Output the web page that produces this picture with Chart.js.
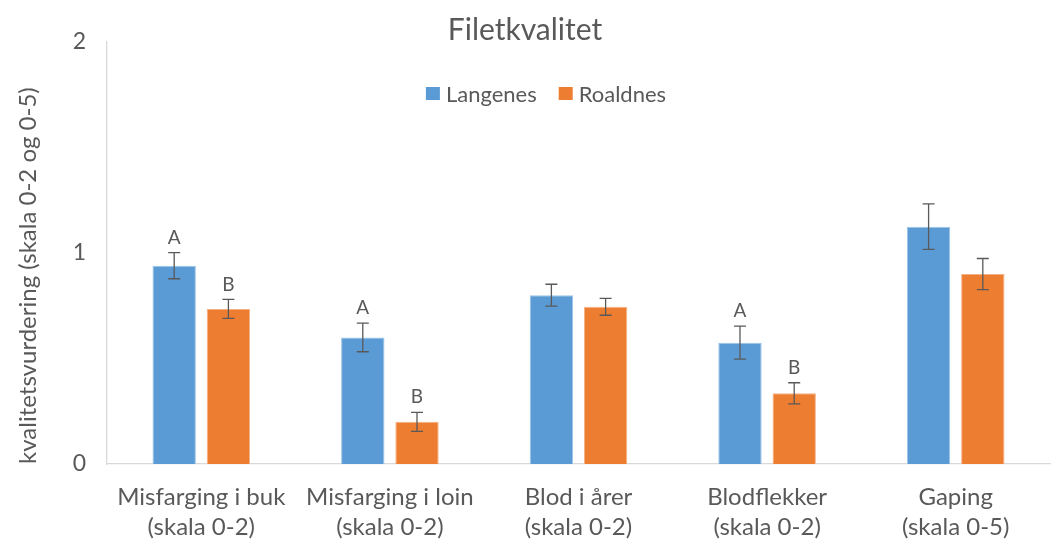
<!DOCTYPE html>
<html>
<head>
<meta charset="utf-8">
<script src="https://cdn.jsdelivr.net/npm/chart.js@4"></script>
<style>
  html, body { margin: 0; padding: 0; background: #fff; }
  #wrap { width: 1055px; height: 542px; }
</style>
</head>
<body>
<div id="wrap"><canvas id="chart" width="1055" height="542"></canvas></div>
<script>
// Filetkvalitet — Langenes vs Roaldnes
const categories = [
  ['Misfarging i buk', '(skala 0-2)'],
  ['Misfarging i loin', '(skala 0-2)'],
  ['Blod i årer', '(skala 0-2)'],
  ['Blodflekker', '(skala 0-2)'],
  ['Gaping', '(skala 0-5)']
];
const langenes = [0.94, 0.60, 0.80, 0.575, 1.125];
const roaldnes = [0.735, 0.20, 0.745, 0.335, 0.90];
const langenesErr = [0.062, 0.068, 0.052, 0.078, 0.108];
const roaldnesErr = [0.045, 0.045, 0.040, 0.050, 0.074];
const langenesSig = ['A', 'A', '', 'A', ''];
const roaldnesSig = ['B', 'B', '', 'B', ''];
const yTicks = [0, 1, 2];

const FONT = 'Lato, "Open Sans", sans-serif';
const TEXT = '#595959';

// error bars + significance letters
const errorBars = {
  id: 'errorBars',
  afterDatasetsDraw(chart) {
    const { ctx, scales: { y } } = chart;
    chart.data.datasets.forEach((ds, di) => {
      const meta = chart.getDatasetMeta(di);
      meta.data.forEach((bar, i) => {
        const v = ds.data[i], e = ds.err[i];
        const top = y.getPixelForValue(v + e);
        const bot = y.getPixelForValue(v - e);
        ctx.save();
        ctx.strokeStyle = '#595959';
        ctx.lineWidth = 1.3;
        ctx.beginPath();
        ctx.moveTo(bar.x, top); ctx.lineTo(bar.x, bot);
        ctx.moveTo(bar.x - 6, top); ctx.lineTo(bar.x + 6, top);
        ctx.moveTo(bar.x - 6, bot); ctx.lineTo(bar.x + 6, bot);
        ctx.stroke();
        if (ds.sig[i]) {
          ctx.fillStyle = TEXT;
          ctx.font = '19px ' + FONT;
          ctx.textAlign = 'center';
          ctx.textBaseline = 'middle';
          ctx.fillText(ds.sig[i], bar.x, top - 15);
        }
        ctx.restore();
      });
    });
  }
};

// legend drawn inside the plot, below the title
const innerLegend = {
  id: 'innerLegend',
  afterDraw(chart) {
    const { ctx, chartArea } = chart;
    ctx.save();
    ctx.font = '22px ' + FONT;
    ctx.textBaseline = 'middle';
    const items = chart.data.datasets.map(ds => ({ label: ds.label, color: ds.backgroundColor, w: ctx.measureText(ds.label).width }));
    const box = 14, gapBox = 6, gapItem = 22;
    const total = items.reduce((s, it) => s + box + gapBox + it.w, 0) + gapItem * (items.length - 1);
    let x = 546 - total / 2;
    const cy = chartArea.top + 52;
    items.forEach(it => {
      ctx.fillStyle = it.color;
      ctx.fillRect(x, cy - 7, box, 13);
      x += box + gapBox;
      ctx.fillStyle = TEXT;
      ctx.fillText(it.label, x, cy + 1);
      x += it.w + gapItem;
    });
    ctx.restore();
  }
};

new Chart(document.getElementById('chart'), {
  type: 'bar',
  data: {
    labels: categories,
    datasets: [
      { label: 'Langenes', data: langenes, err: langenesErr, sig: langenesSig,
        backgroundColor: '#5B9BD5', borderColor: '#9DC3E6', borderWidth: 1 },
      { label: 'Roaldnes', data: roaldnes, err: roaldnesErr, sig: roaldnesSig,
        backgroundColor: '#ED7D31', borderColor: '#F4B183', borderWidth: 1 }
    ]
  },
  options: {
    responsive: false,
    animation: false,
    layout: { padding: { left: 0, right: 5, top: 0, bottom: 0 } },
    datasets: { bar: { categoryPercentage: 0.575, barPercentage: 0.8 } },
    plugins: {
      legend: { display: false },
      tooltip: { enabled: false },
      title: {
        display: true,
        text: 'Filetkvalitet',
        color: TEXT,
        font: { family: FONT, size: 30, weight: 'normal', lineHeight: 0.8 },
        padding: { top: 18, bottom: 0 }
      }
    },
    scales: {
      x: {
        grid: { display: false, drawTicks: false },
        border: { color: '#D9D9D9', width: 1.3 },
        ticks: { color: TEXT, font: { family: FONT, size: 24, lineHeight: 1.25 }, padding: 18, maxRotation: 0 },
        afterFit(scale) { scale.height = 78; }
      },
      y: {
        min: 0, max: 2,
        afterBuildTicks(scale) { scale.ticks = yTicks.map(v => ({ value: v })); },
        grid: { display: false, drawTicks: false },
        border: { color: '#D9D9D9', width: 1.3 },
        ticks: { color: TEXT, font: { family: FONT, size: 23 }, padding: 21 },
        title: {
          display: true,
          text: 'kvalitetsvurdering (skala 0-2 og 0-5)',
          align: 'start',
          color: TEXT,
          font: { family: FONT, size: 24, lineHeight: 1.2 },
          padding: { top: 14, bottom: 0 }
        },
        afterFit(scale) { scale.width = 107; }
      }
    }
  },
  plugins: [errorBars, innerLegend]
});
</script>
</body>
</html>
